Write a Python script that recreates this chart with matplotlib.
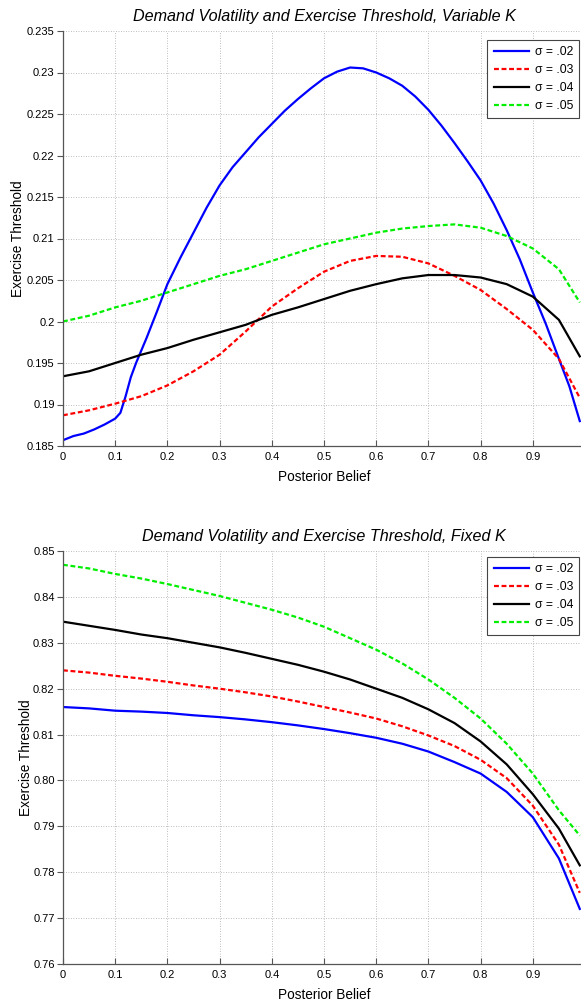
import numpy as np
import matplotlib
matplotlib.use("Agg")
import matplotlib.pyplot as plt
from matplotlib.ticker import FuncFormatter

plt.rcParams['font.family'] = ['Liberation Sans', 'DejaVu Sans']

# ---------------------------------------------------------------------------
# data
belief = [0.0, 0.02, 0.04, 0.06, 0.08, 0.10, 0.11, 0.12, 0.13, 0.14, 0.16, 0.18,
          0.20, 0.225, 0.25, 0.275, 0.30, 0.325, 0.35, 0.375, 0.40, 0.425, 0.45,
          0.475, 0.50, 0.525, 0.55, 0.575, 0.60, 0.625, 0.65, 0.675, 0.70, 0.725,
          0.75, 0.775, 0.80, 0.825, 0.85, 0.875, 0.90, 0.925, 0.95, 0.97, 0.99]

var_s02 = [0.1857, 0.1862, 0.1865, 0.1870, 0.1876, 0.1883, 0.1890, 0.1910, 0.1933,
           0.1950, 0.1980, 0.2012, 0.2045, 0.2077, 0.2107, 0.2137, 0.2164, 0.2186,
           0.2204, 0.2222, 0.2238, 0.2254, 0.2268, 0.2281, 0.2293, 0.2301, 0.2306,
           0.2305, 0.2300, 0.2293, 0.2284, 0.2271, 0.2255, 0.2236, 0.2215, 0.2193,
           0.2170, 0.2142, 0.2110, 0.2075, 0.2035, 0.1997, 0.1955, 0.1922, 0.1880]

belief_s = [0.0, 0.05, 0.10, 0.15, 0.20, 0.25, 0.30, 0.35, 0.40, 0.45, 0.50, 0.55,
            0.60, 0.65, 0.70, 0.75, 0.80, 0.85, 0.90, 0.95, 0.99]

var_s03 = [0.1887, 0.1893, 0.1901, 0.1910, 0.1923, 0.1940, 0.1960, 0.1988, 0.2018,
           0.2040, 0.2060, 0.2073, 0.2079, 0.2078, 0.2070, 0.2055, 0.2038, 0.2015,
           0.1990, 0.1955, 0.1908]
var_s04 = [0.1934, 0.1940, 0.1950, 0.1960, 0.1968, 0.1978, 0.1987, 0.1996, 0.2008,
           0.2017, 0.2027, 0.2037, 0.2045, 0.2052, 0.2056, 0.2056, 0.2053, 0.2045,
           0.2030, 0.2002, 0.1958]
var_s05 = [0.2000, 0.2007, 0.2017, 0.2025, 0.2035, 0.2045, 0.2055, 0.2063, 0.2073,
           0.2083, 0.2093, 0.2100, 0.2107, 0.2112, 0.2115, 0.2117, 0.2113, 0.2103,
           0.2088, 0.2063, 0.2023]

fix_s02 = [0.8160, 0.8157, 0.8152, 0.8150, 0.8147, 0.8142, 0.8138, 0.8133, 0.8127,
           0.8120, 0.8112, 0.8103, 0.8093, 0.8080, 0.8063, 0.8040, 0.8015, 0.7975,
           0.7920, 0.7830, 0.7720]
fix_s03 = [0.8240, 0.8235, 0.8228, 0.8222, 0.8215, 0.8207, 0.8200, 0.8192, 0.8183,
           0.8172, 0.8160, 0.8148, 0.8135, 0.8118, 0.8098, 0.8075, 0.8045, 0.8005,
           0.7945, 0.7860, 0.7755]
fix_s04 = [0.8346, 0.8337, 0.8328, 0.8318, 0.8310, 0.8300, 0.8290, 0.8278, 0.8265,
           0.8252, 0.8237, 0.8220, 0.8200, 0.8180, 0.8155, 0.8125, 0.8085, 0.8035,
           0.7970, 0.7895, 0.7815]
fix_s05 = [0.8470, 0.8462, 0.8450, 0.8440, 0.8428, 0.8415, 0.8402, 0.8387, 0.8372,
           0.8355, 0.8335, 0.8310, 0.8285, 0.8255, 0.8220, 0.8180, 0.8135, 0.8080,
           0.8015, 0.7935, 0.7880]

xticks = [0, 0.1, 0.2, 0.3, 0.4, 0.5, 0.6, 0.7, 0.8, 0.9]
labels = ['σ = .02', 'σ = .03', 'σ = .04', 'σ = .05']
colors = ['#0000ff', '#ff0000', '#000000', '#00ee00']
dashed = [False, True, False, True]

#------------------------------------------------------------------------------------------------
def drawPanel(ax, series, title, ylim, ystep, fmt):
	for (x, y), lab, col, dash in zip(series, labels, colors, dashed):
		line, = ax.plot(x, y, color=col, lw=1.6, label=lab)
		if dash:
			line.set_dashes((2.2, 1.2))
	ax.set_xlim(0, 1)
	ax.set_ylim(*ylim)
	ax.set_xticks(xticks)
	ax.xaxis.set_major_formatter(FuncFormatter(lambda v, p: '%g' % round(v, 3)))
	ax.set_yticks(np.arange(ylim[0], ylim[1] + ystep / 2, ystep))
	ax.yaxis.set_major_formatter(FuncFormatter(fmt))
	ax.grid(True, color='#a8a8a8', lw=0.6, linestyle=(0, (1, 2)))
	ax.spines['top'].set_visible(False)
	ax.spines['right'].set_visible(False)
	for s in ('left', 'bottom'):
		ax.spines[s].set_color('#555555')
		ax.spines[s].set_linewidth(0.9)
	ax.tick_params(axis='x', direction='in', length=4, labelsize=8, pad=4, color='#555555')
	ax.tick_params(axis='y', direction='out', length=4, labelsize=8, pad=2, color='#555555')
	ax.set_title(title, fontsize=11.6, style='italic', pad=7)
	ax.set_xlabel('Posterior Belief', fontsize=9.8, labelpad=6)
	ax.set_ylabel('Exercise Threshold', fontsize=9.8)

fig = plt.figure(figsize=(5.81, 10), dpi=100)

ax1 = fig.add_axes([0.1084, 0.554, 0.8985, 0.415])
drawPanel(ax1, [(belief, var_s02), (belief_s, var_s03), (belief_s, var_s04), (belief_s, var_s05)],
          'Demand Volatility and Exercise Threshold, Variable K', (0.185, 0.235), 0.005,
          lambda v, p: '%g' % round(v, 4))
ax1.yaxis.set_label_coords(-0.072, 0.5)

ax2 = fig.add_axes([0.1084, 0.036, 0.8985, 0.413])
drawPanel(ax2, [(belief_s, fix_s02), (belief_s, fix_s03), (belief_s, fix_s04), (belief_s, fix_s05)],
          'Demand Volatility and Exercise Threshold, Fixed K', (0.76, 0.85), 0.01,
          lambda v, p: '%.2f' % v)
ax2.yaxis.set_label_coords(-0.058, 0.5)

for ax, top in ((ax1, 0.96), (ax2, 0.443)):
	h, l = ax.get_legend_handles_labels()
	leg = fig.legend(h, l, loc='upper right', bbox_to_anchor=(0.9966, top),
	                 borderaxespad=0, fontsize=8.7, handlelength=2.9, handletextpad=0.5,
	                 labelspacing=0.5, borderpad=0.5, fancybox=False, framealpha=1,
	                 edgecolor='#444444')
	leg.get_frame().set_linewidth(0.8)

fig.savefig('out.png', dpi=100)
